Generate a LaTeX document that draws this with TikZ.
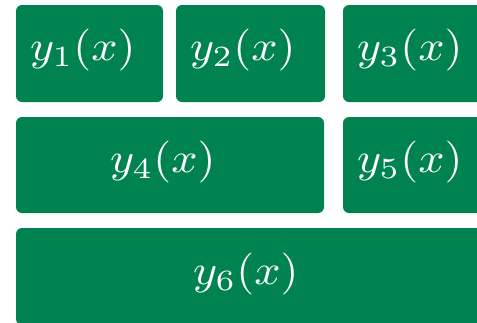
\documentclass[tikz,border=0pt]{standalone}
\usepackage{amsmath}
\usepackage{graphicx}
\definecolor{cellGreen}{HTML}{008351}
\usetikzlibrary{positioning}

\newcommand{\bigfn}[1]{\scalebox{4.6}[4.2]{$#1$}}

\begin{document}
\begin{tikzpicture}[x=1pt, y=-1pt,
  cell/.style={fill=cellGreen, rounded corners=6pt, inner sep=0pt, minimum height=97pt},
  fn/.style={text=white, inner sep=0pt, anchor=base west},
]
  \useasboundingbox (0,0) rectangle (477,322);

  % first row
  \node[cell, minimum width=147pt] (c1) at (89.5,53.5) {};
  \node[cell, minimum width=149pt] (c2) at (250.5,53.5) {};
  \node[cell, minimum width=149pt] (c3) at (417.5,53.5) {};
  % second row
  \node[cell, minimum width=308pt, minimum height=96pt] (c4) at (170,165) {};
  \node[cell, minimum width=149pt, minimum height=96pt] (c5) at (417.5,165) {};
  % third row
  \node[cell, minimum width=476pt] (c6) at (254,276.5) {};

  \node[fn] (y1) at (30,60) {\bigfn{y_1(x)}};
  \node[fn] (y2) at (190,60) {\bigfn{y_2(x)}};
  \node[fn] (y3) at (357,60) {\bigfn{y_3(x)}};
  \node[fn] (y4) at (110,172) {\bigfn{y_4(x)}};
  \node[fn] (y5) at (357,172) {\bigfn{y_5(x)}};
  \node[fn] (y6) at (193,284) {\bigfn{y_6(x)}};
\end{tikzpicture}
\end{document}
